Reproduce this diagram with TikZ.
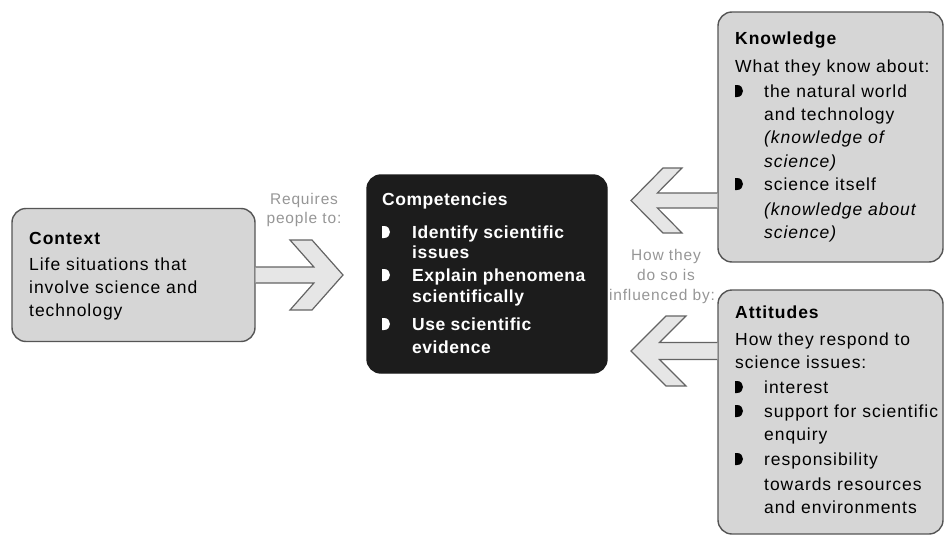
\documentclass[tikz,border=0pt]{standalone}
\usepackage{fontspec}
\setmainfont{Liberation Sans}[LetterSpace=5.5]
\usetikzlibrary{calc}
\definecolor{boxfill}{RGB}{214,214,214}
\definecolor{boxline}{RGB}{85,85,85}
\definecolor{arrfill}{RGB}{230,230,230}
\definecolor{arrline}{RGB}{100,100,100}
\definecolor{labgray}{RGB}{150,150,150}
\definecolor{compfill}{RGB}{28,28,28}
\newcommand{\bodyfnt}{\fontsize{17.5}{23}\selectfont}
\newcommand{\labfnt}{\fontsize{15.5}{20}\selectfont}
\newcommand{\dbul}[3]{\fill[#1] (#2,#3) -- (#2,#3-12) -- (#2+2,#3-12) .. controls (#2+10,#3-12) and (#2+10,#3) .. (#2+2,#3) -- cycle;}
\begin{document}
\begin{tikzpicture}[x=1pt,y=-1pt,
  box/.style={draw=boxline,line width=1.4pt,rounded corners=14pt,inner sep=0},
  txt/.style={anchor=base west,inner sep=0,font=\bodyfnt},
  hd/.style={txt,font=\bodyfnt\bfseries},
  itx/.style={txt,font=\bodyfnt\itshape},
  wtx/.style={txt,font=\bodyfnt\bfseries\addfontfeature{LetterSpace=3},text=white},
  lab/.style={anchor=base,inner sep=0,font=\labfnt,text=labgray},
  blockarrow/.style={draw=arrline,fill=arrfill,line width=1.2pt,line join=miter},
]
\useasboundingbox (0,0) rectangle (945,535);

% boxes
\path (133.5,275) node[box,fill=boxfill,minimum width=243pt,minimum height=133pt] (ctx) {};
\path (487,274) node[box,fill=compfill,draw=compfill,minimum width=240pt,minimum height=198pt] (comp) {};
\path (830.5,137) node[box,fill=boxfill,minimum width=225pt,minimum height=250pt] (know) {};
\path (830.5,412) node[box,fill=boxfill,minimum width=225pt,minimum height=244pt] (att) {};

% block arrows
\draw[blockarrow] (ctx.east |- 0,267) -- (313.9,267) -- (290,240) -- (312,240) -- (343,275)
  -- (312,310) -- (290,310) -- (313.9,283) -- (ctx.east |- 0,283);
\draw[blockarrow] (know.west |- 0,193) -- (657.4,193) -- (682,168) -- (663,168) -- (631,200.5)
  -- (663,233) -- (682,233) -- (657.4,208) -- (know.west |- 0,208);
\draw[blockarrow] (att.west |- 0,342.5) -- (659.5,342.5) -- (686,316) -- (666,316) -- (631,351)
  -- (666,386) -- (686,386) -- (659.5,359.5) -- (att.west |- 0,359.5);

% Context
\node[hd] (c0) at (29,244) {Context};
\node[txt] (c1) at (29,270) {Life situations that};
\node[txt] (c2) at (29,293) {involve science and};
\node[txt] (c3) at (29,316) {technology};

% Competencies
\node[wtx] (p0) at (382,205) {Competencies};
\node[wtx] (p1) at (412,238) {Identify scientific};
\node[wtx] (p2) at (412,258) {issues};
\node[wtx] (p3) at (412,281) {Explain phenomena};
\node[wtx] (p4) at (412,302) {scientifically};
\node[wtx] (p5) at (412,330) {Use scientific};
\node[wtx] (p6) at (412,353) {evidence};
\dbul{white}{382}{238}
\dbul{white}{382}{281}
\dbul{white}{382}{330}

% Knowledge
\node[hd] (k0) at (735,45) {Knowledge};
\node[txt] (k1) at (735,73) {What they know about:};
\node[txt] (k2) at (764,97) {the natural world};
\node[txt] (k3) at (764,120) {and technology};
\node[itx] (k4) at (764,143) {(knowledge of};
\node[itx] (k5) at (764,167) {science)};
\node[txt] (k6) at (764,190) {science itself};
\node[itx] (k7) at (764,215) {(knowledge about};
\node[itx] (k8) at (764,238) {science)};
\dbul{black}{735}{97}
\dbul{black}{735}{190}

% Attitudes
\node[hd] (a0) at (735,318) {Attitudes};
\node[txt] (a1) at (735,345) {How they respond to};
\node[txt] (a2) at (735,368) {science issues:};
\node[txt] (a3) at (764,393) {interest};
\node[txt] (a4) at (764,417) {support for scientific};
\node[txt] (a5) at (764,440) {enquiry};
\node[txt] (a6) at (764,465) {responsibility};
\node[txt] (a7) at (764,490) {towards resources};
\node[txt] (a8) at (764,513) {and environments};
\dbul{black}{735}{393}
\dbul{black}{735}{417}
\dbul{black}{735}{465}

% labels
\node[lab] (l1) at (304,204) {Requires};
\node[lab] (l2) at (304,223) {people to:};
\node[lab] (l3) at (666,260) {How they};
\node[lab] (l4) at (666,280) {do so is};
\node[lab] (l5) at (662,300) {influenced by:};
\end{tikzpicture}
\end{document}
